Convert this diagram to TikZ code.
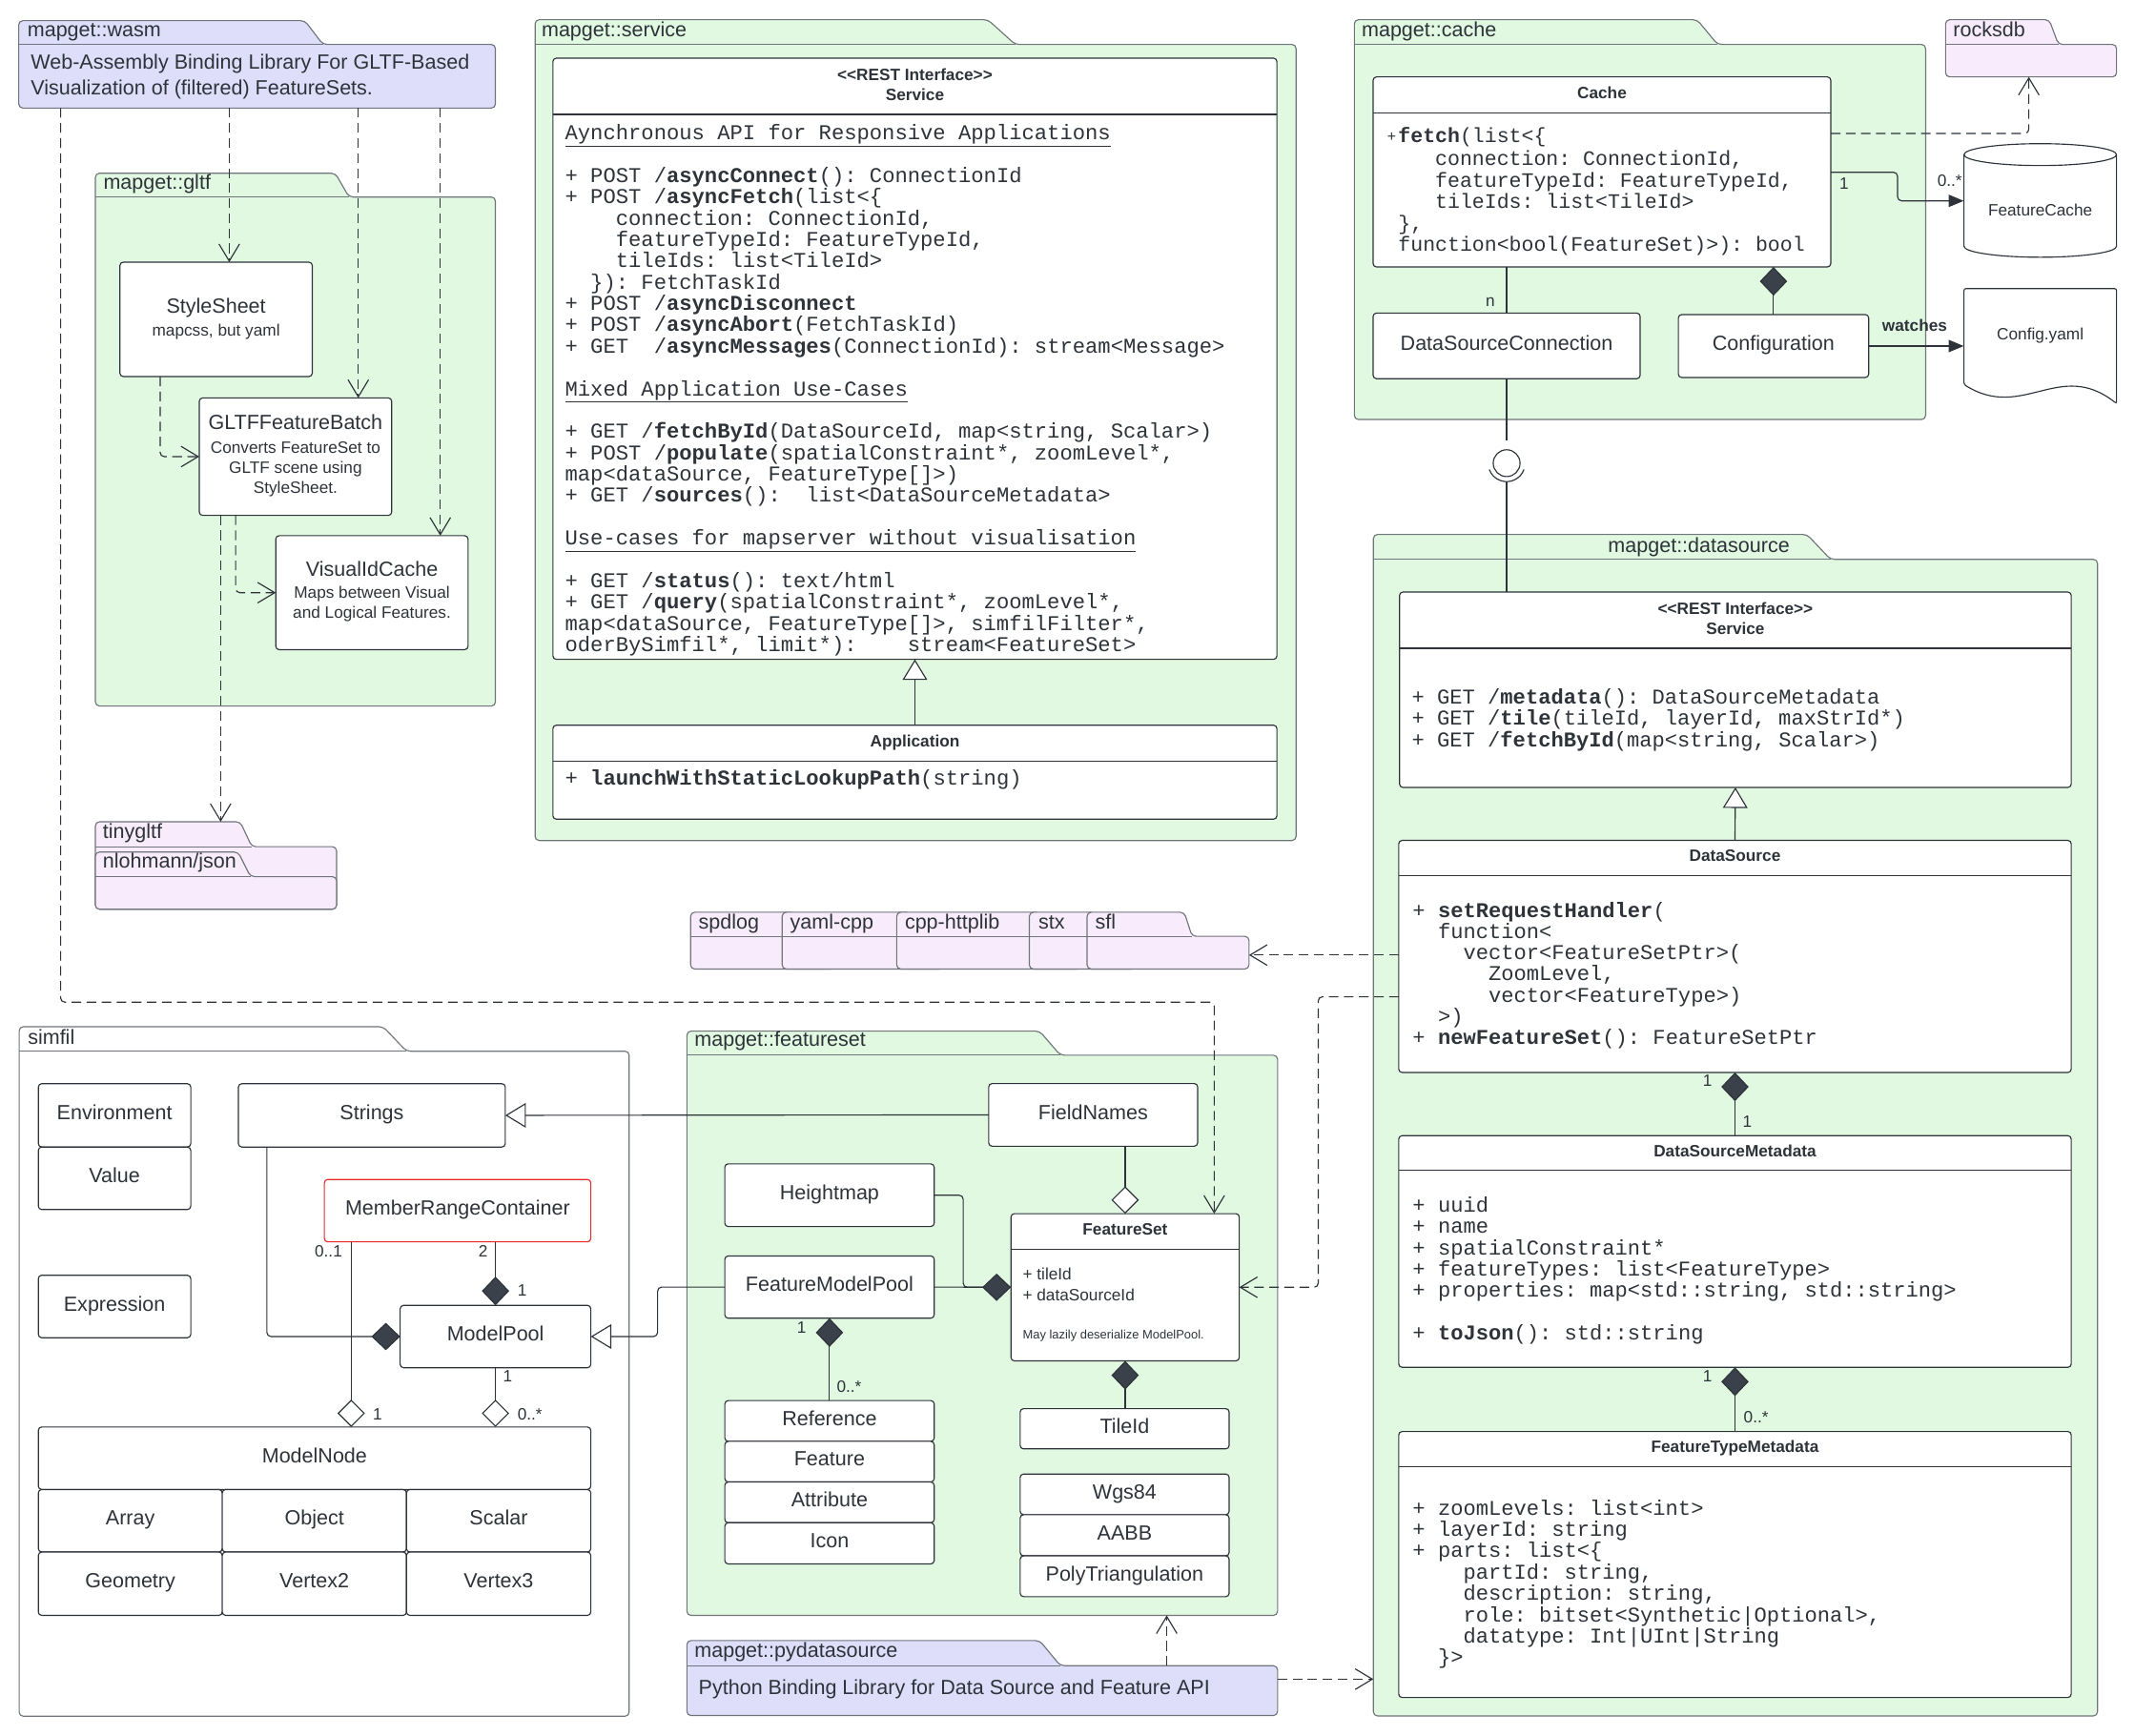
\documentclass[tikz,border=0pt]{standalone}
\usepackage{fontspec}
\setmainfont{Liberation Sans}[Ligatures=TeXOff]
\setmonofont{Liberation Mono}[Ligatures=TeXOff]
\usetikzlibrary{arrows.meta}
\definecolor{grn}{HTML}{E1F8E1}
\definecolor{lav}{HTML}{DEDEFA}
\definecolor{pnk}{HTML}{F8ECFC}
\definecolor{pkgb}{HTML}{70757C}
\definecolor{ink}{HTML}{2E333A}
\definecolor{dia}{HTML}{3A414B}
\definecolor{redb}{HTML}{E5282B}
\newcommand\fsz[2]{\fontsize{#1}{#2}\selectfont\lineskiplimit=-100pt\lineskip=0pt}
\newcommand\ind[1]{\hspace*{\fpeval{0.6*#1}em}}
\newcommand\stm{\rule{0pt}{14pt}}
\newcommand\sts{\rule{0pt}{10pt}}
\newcommand\stl{\rule{0pt}{12pt}}
\tikzset{
  every node/.style={text=ink},
  pkg/.style={draw=pkgb, line width=0.8pt},
  cls/.style={draw=ink, fill=white, rounded corners=2.5pt, line width=0.8pt, inner sep=0pt, outer sep=0pt,
    font=\fsz{15}{18}, text height=10.5pt, text depth=3.9pt},
  divl/.style={draw=ink, line width=0.8pt},
  conn/.style={draw=ink, line width=0.8pt, rounded corners=3pt},
  dep/.style={conn, dash pattern=on 7pt off 4pt, -{Straight Barb[length=12.5pt,width=15pt]}},
  gen/.style={conn, -{Triangle[length=15pt,width=18pt,fill=white]}},
  comp/.style={conn, {Diamond[length=21pt,width=20pt,fill=dia]}-},
  aggr/.style={conn, {Diamond[length=20pt,width=20pt,fill=white]}-},
  arr/.style={conn, -{Triangle[length=11pt,width=9pt]}},
  lab/.style={inner sep=0pt, font=\fsz{12}{14}, text height=8.6pt, text depth=0pt},
  tl/.style={inner sep=0pt, anchor=base west, font=\fsz{15}{18}},
  hd/.style={inner sep=0pt, anchor=base, font=\bfseries\fsz{12}{14}},
  hd2/.style={inner sep=0pt, anchor=north, align=center, font=\bfseries\fsz{12}{14.8}},
  sub/.style={inner sep=0pt, anchor=north, align=center, font=\fsz{12}{14.6}},
  mono/.style={inner sep=0pt, anchor=north west, align=left},
}
% [opts]{name}{x0}{y0}{x1}{y1}{text}
\newcommand\rbox[7][]{\node[cls,#1,minimum width={#5-#3},minimum height={#6-#4}] (#2) at ({(#3+#5)/2},{(#4+#6)/2}) {#7};}
% {fill}{x0}{ytabtop}{xslanttop}{ytabbottom}{x1}{y1}{xslantbottom}
\newcommand\pkg[8]{%
  \filldraw[pkg,fill=#1,rounded corners=3pt] (#2,#5) -- (#2,#3) -- (#4,#3) -- (#8,#5) -- (#6,#5) -- (#6,#7) -- (#2,#7) -- cycle;
  \draw[pkg] (#2,#5) -- (#8,#5);}
\begin{document}
\begin{tikzpicture}[x=1pt,y=-1pt]
\fill[white] (0,0) rectangle (1560,1268.75);
\useasboundingbox (0,0) rectangle (1560,1268.75);

% ---------------- packages ----------------
\pkg{lav}{13.7}{15.1}{222.7}{32.5}{362}{79}{236}
\pkg{grn}{69.7}{126.6}{245}{144}{362}{516}{255}
\pkg{pnk}{69.7}{600.6}{175.5}{618.8}{245.9}{664.5}{184}
\pkg{pnk}{69.7}{622.7}{174}{640.7}{245.9}{664.5}{183}
\pkg{grn}{391}{14.4}{721.8}{32.5}{947}{614.3}{741.8}
\pkg{grn}{989.6}{14.4}{1240}{32.5}{1407}{306.6}{1255}
\pkg{pnk}{1421.6}{14.4}{1497.3}{32.5}{1546.5}{56.2}{1504}
\pkg{grn}{1003.5}{390.6}{1320.3}{408.8}{1532.6}{1254.1}{1337.5}
\pkg{white}{14}{750.4}{280}{768.3}{459.7}{1254.3}{297}
\pkg{grn}{501.9}{753.6}{759.6}{771.2}{933.5}{1180.6}{774.8}
\pkg{lav}{501.9}{1199}{759.6}{1217.4}{933.5}{1253.8}{774.8}
\pkg{pnk}{504.6}{666.7}{580}{684.3}{610}{708.2}{590}
\pkg{pnk}{571.5}{666.7}{665}{684.3}{690}{708.2}{675}
\pkg{pnk}{655.2}{666.7}{760}{684.3}{790}{708.2}{770}
\pkg{pnk}{752.1}{666.7}{800}{684.3}{830}{708.2}{810}
\pkg{pnk}{794.3}{666.7}{865.3}{684.3}{912.6}{708.2}{871}

% package labels
\node[tl] (lwasm) at (19.9,27) {mapget::wasm};
\node[tl] (lgltf) at (75.4,138.5) {mapget::gltf};
\node[tl] (ltiny) at (75,612.5) {tinygltf};
\node[tl] (ljson) at (75,634.6) {nlohmann/json};
\node[tl] (lserv) at (395.6,27) {mapget::service};
\node[tl] (lcache) at (994.8,27) {mapget::cache};
\node[tl] (lrocks) at (1427,27) {rocksdb};
\node[tl, anchor=base] (lds) at (1241.3,404) {mapget::datasource};
\node[tl] (lsimfil) at (20.2,763) {simfil};
\node[tl] (lfs) at (507.3,764.8) {mapget::featureset};
\node[tl] (lpy) at (507.3,1211) {mapget::pydatasource};
\node[tl] (lspd) at (510.3,678.7) {spdlog};
\node[tl] (lyaml) at (577.2,678.7) {yaml-cpp};
\node[tl] (lhttp) at (661,678.7) {cpp-httplib};
\node[tl] (lstx) at (758.6,678.7) {stx};
\node[tl] (lsfl) at (800.1,678.7) {sfl};
\node[inner sep=0pt, anchor=north west, align=left, font=\fsz{15}{18.6}] (wasmtxt) at (22.4,38.3)
  {\stl Web-Assembly Binding Library For GLTF-Based\\Visualization of (filtered) FeatureSets.};
\node[tl] (pytxt) at (510.3,1238.4) {Python Binding Library for Data Source and Feature API};

% ---------------- gltf ----------------
\rbox{ss}{87.6}{191.6}{228.2}{275.2}{}
\node[tl, anchor=base] (sst) at (ss.center |- 0,229) {StyleSheet};
\node[sub, anchor=base] (sss) at (ss.center |- 0,245.5) {mapcss, but yaml};
\rbox{gfb}{145.6}{290.8}{286.2}{376.7}{}
\node[tl, anchor=base] (gfbt) at (gfb.center |- 0,314) {GLTFFeatureBatch};
\node[sub] (gfbs) at (gfb.center |- 0,321) {\sts Converts FeatureSet to\\GLTF scene using\\StyleSheet.};
\rbox{vic}{201.5}{391.5}{342}{474.8}{}
\node[tl, anchor=base] (vict) at (vic.center |- 0,421.3) {VisualIdCache};
\node[sub] (vics) at (vic.center |- 0,427) {\sts Maps between Visual\\and Logical Features.};

% ---------------- service ----------------
\rbox{svc}{404}{42.5}{933}{481.9}{}
\draw[divl] (svc.west |- 0,83.6) -- (svc.east |- 0,83.6);
\node[hd2] (svch) at (svc.center |- 0,48.6) {\sts<<REST Interface>>\\Service};
\node[mono, font=\ttfamily\fsz{15.45}{15.58}] (svct) at (412.7,88) {\stm\underline{Aynchronous API for Responsive Applications}\\
\mbox{}\\
+ POST /\textbf{asyncConnect}(): ConnectionId\\
+ POST /\textbf{asyncFetch}(list<\{\\
\ind{4}connection: ConnectionId,\\
\ind{4}featureTypeId: FeatureTypeId,\\
\ind{4}tileIds: list<TileId>\\
\ind{2}\}): FetchTaskId\\
+ POST /\textbf{asyncDisconnect}\\
+ POST /\textbf{asyncAbort}(FetchTaskId)\\
+ GET\ind{2}/\textbf{asyncMessages}(ConnectionId): stream<Message>\\
\mbox{}\\
\underline{Mixed Application Use-Cases}\\
\mbox{}\\
+ GET /\textbf{fetchById}(DataSourceId, map<string, Scalar>)\\
+ POST /\textbf{populate}(spatialConstraint*, zoomLevel*,\\
map<dataSource, FeatureType[]>)\\
+ GET /\textbf{sources}():\ind{2}list<DataSourceMetadata>\\
\mbox{}\\
\underline{Use-cases for mapserver without visualisation}\\
\mbox{}\\
+ GET /\textbf{status}(): text/html\\
+ GET /\textbf{query}(spatialConstraint*, zoomLevel*,\\
map<dataSource, FeatureType[]>, simfilFilter*,\\
oderBySimfil*, limit*):\ind{4}stream<FeatureSet>};
\rbox{app}{404}{530}{933}{598.7}{}
\draw[divl] (app.west |- 0,556.2) -- (app.east |- 0,556.2);
\node[hd] (apph) at (app.center |- 0,545.8) {Application};
\node[inner sep=0pt, anchor=base west, font=\ttfamily\fsz{15.45}{15.58}] (appt) at (412.7,574) {+ \textbf{launchWithStaticLookupPath}(string)};

% ---------------- cache ----------------
\rbox{cache}{1003.3}{56.2}{1337.7}{195.1}{}
\draw[divl] (cache.west |- 0,82.4) -- (cache.east |- 0,82.4);
\node[hd] (cacheh) at (cache.center |- 0,72) {Cache};
\node[inner sep=0pt, anchor=base west, font=\fsz{11}{13}] (cplus) at (1013.5,103.2) {+};
\node[mono, font=\ttfamily\fsz{15}{15.6}] (cachet) at (1021.5,89.7) {\stm\textbf{fetch}(list<\{\\[1.7pt]
\ind{3}connection: ConnectionId,\\
\ind{3}featureTypeId: FeatureTypeId,\\
\ind{3}tileIds: list<TileId>\\
\},\\
function<bool(FeatureSet)>): bool};
\rbox{dsc}{1003.3}{228.8}{1198.4}{276.8}{DataSourceConnection}
\rbox{config}{1226.3}{229.9}{1365.4}{275.9}{Configuration}

% FeatureCache cylinder
\node[inner sep=0pt, minimum width=111.5, minimum height=83] (fc) at (1490.75,146.5) {};
\filldraw[draw=ink, fill=white, line width=0.8pt] (1435,113) -- (1435,180)
  arc[start angle=180, end angle=0, x radius=55.75, y radius=8] -- (1546.5,113)
  arc[start angle=0, end angle=-180, x radius=55.75, y radius=8] -- cycle;
\draw[draw=ink, line width=0.8pt] (1435,113) arc[start angle=180, end angle=0, x radius=55.75, y radius=8];
\node[lab] (fct) at (1490.75,153.7) {FeatureCache};
% Config.yaml document
\node[inner sep=0pt, minimum width=111.5, minimum height=84] (cy) at (1490.75,253) {};
\filldraw[draw=ink, fill=white, line width=0.8pt, rounded corners=1.5pt] (1435,210.9) -- (1546.5,210.9) -- (1546.5,295)
  .. controls (1505,262) and (1478,308) .. (1435,281) -- cycle;
\node[lab] (cyt) at (1490.75,243.9) {Config.yaml};

% ---------------- datasource ----------------
\rbox{dssvc}{1022.6}{432.7}{1513.4}{575.5}{}
\draw[divl] (dssvc.west |- 0,473.8) -- (dssvc.east |- 0,473.8);
\node[hd2] (dssvch) at (dssvc.center |- 0,438.7) {\sts<<REST Interface>>\\Service};
\node[mono, font=\ttfamily\fsz{15.4}{15.7}] (dssvct) at (1031.4,500.3) {\stm+ GET /\textbf{metadata}(): DataSourceMetadata\\
+ GET /\textbf{tile}(tileId, layerId, maxStrId*)\\
+ GET /\textbf{fetchById}(map<string, Scalar>)};
\rbox{ds}{1022}{614.2}{1513.4}{783.8}{}
\draw[divl] (ds.west |- 0,639.7) -- (ds.east |- 0,639.7);
\node[hd] (dsh) at (ds.center |- 0,629.6) {DataSource};
\node[mono, font=\ttfamily\fsz{15.4}{15.5}] (dst) at (1032,656.1) {\stm+ \textbf{setRequestHandler}(\\
\ind{2}function<\\
\ind{4}vector<FeatureSetPtr>(\\
\ind{6}ZoomLevel,\\
\ind{6}vector<FeatureType>)\\
\ind{2}>)\\
+ \textbf{newFeatureSet}(): FeatureSetPtr};
\rbox{dsm}{1022}{830}{1513.4}{999.3}{}
\draw[divl] (dsm.west |- 0,855.5) -- (dsm.east |- 0,855.5);
\node[hd] (dsmh) at (dsm.center |- 0,845.3) {DataSourceMetadata};
\node[mono, font=\ttfamily\fsz{15.4}{15.57}] (dsmt) at (1032,871.6) {\stm+ uuid\\
+ name\\
+ spatialConstraint*\\
+ featureTypes: list<FeatureType>\\
+ properties: map<std::string, std::string>\\
\mbox{}\\
+ \textbf{toJson}(): std::string};
\rbox{ftm}{1022}{1046.2}{1513.4}{1240.6}{}
\draw[divl] (ftm.west |- 0,1071.8) -- (ftm.east |- 0,1071.8);
\node[hd] (ftmh) at (ftm.center |- 0,1061.4) {FeatureTypeMetadata};
\node[mono, font=\ttfamily\fsz{15.4}{15.59}] (ftmt) at (1032,1093) {\stm+ zoomLevels: list<int>\\
+ layerId: string\\
+ parts: list<\{\\
\ind{4}partId: string,\\
\ind{4}description: string,\\
\ind{4}role: bitset<Synthetic|Optional>,\\
\ind{4}datatype: Int|UInt|String\\
\ind{2}\}>};

% ---------------- simfil ----------------
\rbox{env}{28}{792}{139.4}{838.3}{Environment}
\rbox{val}{28}{838.3}{139.4}{884}{Value}
\rbox{expr}{28}{932}{139.4}{977.7}{Expression}
\rbox{strings}{174.2}{792}{369.2}{838.3}{Strings}
\rbox[draw=redb]{mrc}{237}{862}{431.7}{907.6}{MemberRangeContainer}
\rbox{mp}{292.4}{954}{431.7}{999.6}{ModelPool}
\rbox{mn}{28}{1042.9}{431.7}{1088.6}{ModelNode}
\rbox{arrayb}{28}{1088.6}{162.4}{1134.3}{Array}
\rbox{objb}{162.4}{1088.6}{297}{1134.3}{Object}
\rbox{scalb}{297}{1088.6}{431.7}{1134.3}{Scalar}
\rbox{geomb}{28}{1134.3}{162.4}{1180.6}{Geometry}
\rbox{v2b}{162.4}{1134.3}{297}{1180.6}{Vertex2}
\rbox{v3b}{297}{1134.3}{431.7}{1180.6}{Vertex3}

% ---------------- featureset ----------------
\rbox{fn}{722.4}{791.9}{875.1}{837.7}{FieldNames}
\rbox{hm}{529.6}{850.6}{682.6}{896.4}{Heightmap}
\rbox{fmp}{529.6}{917.9}{682.6}{963.4}{FeatureModelPool}
\rbox{fs}{738.7}{887}{905.5}{994.6}{}
\draw[divl] (fs.west |- 0,913.3) -- (fs.east |- 0,913.3);
\node[hd] (fsh) at (fs.center |- 0,902.4) {FeatureSet};
\node[inner sep=0pt, anchor=north west, align=left, font=\fsz{12}{15.5}] (fsa) at (747.1,925) {\sts + tileId\\+ dataSourceId};
\node[inner sep=0pt, anchor=base west, font=\fsz{9}{11}] (fsn) at (747.1,978.3) {May lazily deserialize ModelPool.};
\rbox{ref}{529.6}{1023.6}{682.6}{1053.4}{Reference}
\rbox{feat}{529.6}{1053.4}{682.6}{1083.1}{Feature}
\rbox{attr}{529.6}{1083.1}{682.6}{1112.9}{Attribute}
\rbox{icon}{529.6}{1112.9}{682.6}{1143}{Icon}
\rbox{tile}{745.4}{1029.5}{898.1}{1058.9}{TileId}
\rbox{wgs}{745.4}{1077.3}{898.1}{1107}{Wgs84}
\rbox{aabb}{745.4}{1107}{898.1}{1137.1}{AABB}
\rbox{poly}{745.4}{1137.1}{898.1}{1166.9}{PolyTriangulation}

% ---------------- coordinates ----------------
\coordinate (wasmb) at (0,79);
\coordinate (tinyt) at (161.2,600.6);
\coordinate (rocksb) at (1482.4,56.2);
\coordinate (sflr) at (912.6,698);
\coordinate (pyt) at (852.5,1217.4);
\coordinate (fspkgb) at (852.5,1180.6);
\coordinate (pyr) at (933.5,1227.2);
\coordinate (dspkgl) at (1003.5,1227.2);
\coordinate (balltop) at (dsc.south |- 0,322);
\coordinate (ballc) at (dsc.south |- 0,338.5);
\coordinate (sockbot) at (dsc.south |- 0,352);

% ---------------- connectors ----------------
% wasm dependencies
\draw[dep] (167.5,0 |- wasmb) -- (167.5,0 |- ss.north);
\draw[dep] (261.8,0 |- wasmb) -- (261.8,0 |- gfb.north);
\draw[dep] (321.7,0 |- wasmb) -- (321.7,0 |- vic.north);
\draw[dep] (44.3,0 |- wasmb) -- (44.3,732.4) -- (887.2,732.4) -- (887.2,0 |- fs.north);
\draw[dep] (117,0 |- ss.south) |- (gfb.west |- 0,333.7);
\draw[dep] (172.2,0 |- gfb.south) |- (vic.west);
\draw[dep] (161.2,0 |- gfb.south) -- (tinyt);
% service
\draw[gen] (app.north) -- (svc.south);
% cache
\draw[conn] (dsc.north |- cache.south) -- (dsc.north);
\draw[comp] (config.north |- cache.south) -- (config.north);
\draw[dep] (cache.east |- 0,97.5) -| (rocksb);
\draw[arr] (cache.east |- 0,125.9) -- (1386.5,125.9) |- (fc.west |- 0,146.8);
\draw[arr] (config.east) -- (cy.west |- config.east);
% interface ball and socket
\draw[conn] (dsc.south) -- (balltop);
\draw[draw=ink, line width=0.8pt] (ballc) circle[radius=9.8];
\draw[draw=ink, line width=0.8pt] ([shift={(20:13.5)}]ballc) arc[start angle=20, end angle=160, radius=13.5];
\draw[conn] (sockbot) -- (sockbot |- dssvc.north);
% datasource
\draw[gen] (ds.north) -- (dssvc.south);
\draw[comp] (ds.south) -- (dsm.north);
\draw[comp] (dsm.south) -- (ftm.north);
\draw[dep] (ds.west |- 0,698) -- (sflr);
\draw[dep] (ds.west |- 0,728.5) -- (963.2,728.5) -- (963.2,0 |- fs.east) -- (fs.east);
\draw[dep] (pyr) -- (dspkgl);
\draw[dep] (pyt) -- (fspkgb);
% simfil
\draw[gen] (fn.west) -- (strings.east);
\draw[gen] (fmp.west) -- (480.5,0 |- fmp.west) |- (mp.east);
\draw[comp] (mp.west) -- (195,0 |- mp.west) -- (195,0 |- strings.south);
\draw[comp] (mp.north) -- (mp.north |- mrc.south);
\draw[aggr] (256.6,0 |- mn.north) -- (256.6,0 |- mrc.south);
\draw[aggr] (mp.south |- mn.north) -- (mp.south);
% featureset
\draw[aggr] (fs.north) -- (fs.north |- fn.south);
\draw[conn] (fmp.east) -- (fs.west);
\draw[comp] (fs.west) -- (703.8,0 |- fs.west) |- (hm.east);
\draw[comp] (fmp.south) -- (fmp.south |- ref.north);
\draw[comp] (fs.south) -- (fs.south |- tile.north);

% ---------------- labels ----------------
\node[lab] (mn1) at (1089,219.5) {n};
\node[lab] (mc1) at (1347.5,134.2) {1};
\node[lab] (mc2) at (1424.6,131.9) {0..*};
\node[lab, font=\bfseries\fsz{12}{14}] (mw) at (1399,238) {watches};
\node[lab] (md1) at (1247.6,789.8) {1};
\node[lab] (md2) at (1276.7,819.6) {1};
\node[lab] (md3) at (1247.6,1005.6) {1};
\node[lab] (md4) at (1283.1,1035.8) {0..*};
\node[lab] (ms1) at (240,914.4) {0..1};
\node[lab] (ms2) at (353,914.4) {2};
\node[lab] (ms3) at (381.6,943.2) {1};
\node[lab] (ms4) at (275.9,1033.4) {1};
\node[lab] (ms5) at (371,1005.7) {1};
\node[lab] (ms6) at (387.2,1033.4) {0..*};
\node[lab] (mf1) at (585.7,970) {1};
\node[lab] (mf2) at (620.4,1013) {0..*};
\end{tikzpicture}
\end{document}
